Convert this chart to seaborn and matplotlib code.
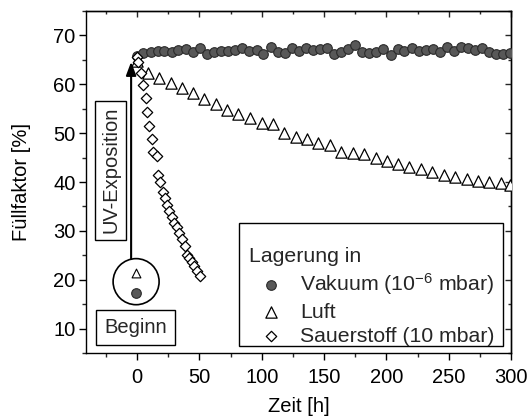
import numpy as np
import pandas as pd
import seaborn as sns
import matplotlib
matplotlib.use("Agg")
import matplotlib.pyplot as plt
from matplotlib.patches import Ellipse, FancyArrowPatch, Rectangle
from matplotlib.ticker import MultipleLocator

# ---------------- data ----------------
vak_t = [0, 5.1, 11.2, 16.6, 21.9, 27.8, 33.2, 39.3, 44.7, 50.5, 55.9, 62.0, 67.4,
         72.7, 78.6, 84.0, 89.8, 96.0, 101.3, 107.2, 112.8, 118.5, 124.1, 129.7,
         135.3, 140.9, 146.8, 152.4, 158.0, 163.6, 169.2, 175.1, 180.7, 186.3,
         192.0, 197.6, 203.5, 209.1, 214.4, 220.3, 225.9, 231.5, 237.2, 243.0,
         248.7, 254.3, 259.9, 265.7, 271.1, 277.0, 282.6, 288.2, 293.8, 299.5]
vak_ff = [65.8, 66.4, 66.6, 66.9, 66.9, 66.7, 67.1, 67.2, 66.7, 67.5, 66.2, 66.6, 66.9,
          66.9, 67.1, 67.5, 66.8, 67.1, 66.2, 67.6, 66.7, 66.4, 67.4, 66.9,
          67.4, 67.1, 67.3, 67.4, 66.2, 66.7, 67.3, 68.1, 66.7, 66.4,
          66.7, 67.2, 66.0, 67.2, 66.9, 67.5, 66.9, 67.1, 67.2, 66.7,
          67.6, 66.9, 67.6, 67.5, 67.1, 67.4, 66.6, 66.3, 66.2, 66.5]

luft_t = [0, 9.1, 17.7, 27.0, 35.8, 45.2, 54.0, 63.1, 72.4, 81.3, 90.6, 100.0, 108.8,
          118.2, 127.5, 136.1, 145.5, 154.8, 163.6, 173.0, 182.3, 191.5, 200.8,
          209.6, 218.4, 227.5, 236.9, 246.3, 255.1, 264.5, 273.3, 282.6, 291.7, 299.2]
luft_ff = [64.8, 62.3, 61.3, 60.2, 59.3, 58.2, 57.0, 55.9, 54.8, 53.9, 53.1, 52.0, 51.9,
           50.1, 49.3, 48.8, 48.0, 47.5, 46.2, 46.0, 45.8, 44.9, 44.3,
           43.7, 43.0, 42.6, 42.1, 41.5, 41.1, 40.6, 40.3, 40.0, 39.8, 39.4]

sauer_t = [0, 1.0, 3.0, 5.0, 7.0, 8.3, 9.9, 11.8, 13.0, 15.8, 16.5, 18.4, 20.6, 22.5,
           23.8, 25.9, 27.8, 29.7, 31.8, 33.9, 35.9, 38.5, 39.9, 42.0, 43.9, 46.0,
           47.9, 50.5]
sauer_ff = [65.6, 64.5, 62.4, 59.8, 57.1, 54.3, 51.4, 48.8, 46.2, 45.3, 41.5, 39.9,
            38.0, 36.7, 35.3, 34.1, 32.9, 31.7, 30.7, 29.5, 28.3, 26.9, 25.1, 24.4,
            23.6, 22.8, 21.8, 20.8]

labels = ["Vakuum (10$^{\\mathsf{-6}}$ mbar)", "Luft", "Sauerstoff (10 mbar)"]
legend_title = "Lagerung in"
x_label = "Zeit [h]"
y_label = "Füllfaktor [%]"
x_ticks = [0, 50, 100, 150, 200, 250, 300]
y_ticks = [10, 20, 30, 40, 50, 60, 70]

# ---------------- style ----------------
sns.set_theme(style="ticks")
plt.rcParams["font.family"] = ["Liberation Sans", "DejaVu Sans"]
plt.rcParams["mathtext.fontset"] = "custom"
plt.rcParams["mathtext.rm"] = "Liberation Sans"
plt.rcParams["mathtext.sf"] = "Liberation Sans"
plt.rcParams["mathtext.it"] = "Liberation Sans:italic"
FS = 14.5
LFS = 15.3

fig = plt.figure(figsize=(5.27, 4.16), dpi=100)
ax = fig.add_axes([86 / 527, (416 - 353) / 416, (511 - 86) / 527, (353 - 11) / 416])

df_v = pd.DataFrame({"t": vak_t, "ff": vak_ff})
df_l = pd.DataFrame({"t": luft_t, "ff": luft_ff})
df_s = pd.DataFrame({"t": sauer_t, "ff": sauer_ff})

sns.scatterplot(data=df_v, x="t", y="ff", marker="o", s=48, color="#585858",
                edgecolor="#2a2a2a", linewidth=0.8, ax=ax, label=labels[0], zorder=3)
sns.scatterplot(data=df_l, x="t", y="ff", marker="^", s=66, color="white",
                edgecolor="black", linewidth=0.9, ax=ax, label=labels[1], zorder=4)
sns.scatterplot(data=df_s, x="t", y="ff", marker="D", s=28, color="white",
                edgecolor="black", linewidth=0.9, ax=ax, label=labels[2], zorder=5)

ax.set_xlim(-41, 300)
ax.set_ylim(5, 75)
ax.set_xticks(x_ticks)
ax.set_yticks(y_ticks)
ax.xaxis.set_minor_locator(MultipleLocator(25))
ax.yaxis.set_minor_locator(MultipleLocator(5))
ax.tick_params(which="major", direction="out", length=5, width=1, labelsize=FS,
               colors="black", top=False, right=False)
ax.tick_params(which="minor", direction="out", length=3, width=1, top=False, right=False)
ax.tick_params(axis="x", which="major", pad=6)
ax.tick_params(axis="y", which="major", pad=2.5)
for sp in ax.spines.values():
    sp.set_visible(True)
    sp.set_linewidth(1.0)
    sp.set_color("black")

secx = ax.secondary_xaxis("top")
secx.set_xticks(x_ticks)
secx.xaxis.set_minor_locator(MultipleLocator(25))
secx.tick_params(which="major", direction="in", length=4, width=1, labeltop=False)
secx.tick_params(which="minor", direction="in", length=2.5, width=1)
secx.spines["top"].set_linewidth(1.0)
secy = ax.secondary_yaxis("right")
secy.set_yticks(y_ticks)
secy.yaxis.set_minor_locator(MultipleLocator(5))
secy.tick_params(which="major", direction="in", length=4, width=1, labelright=False)
secy.tick_params(which="minor", direction="in", length=2.5, width=1)
secy.spines["right"].set_linewidth(1.0)

ax.set_xlabel(x_label, fontsize=FS, color="black", labelpad=7)
ax.set_ylabel(y_label, fontsize=FS, color="black", labelpad=16)

# ---------------- annotations ----------------
ax.text(-21.3, 42.4, "UV-Exposition", rotation=90, ha="center", va="center",
        fontsize=FS, zorder=6,
        bbox=dict(boxstyle="square,pad=0.3", fc="white", ec="black", lw=1.0))
ax.text(-1.0, 10.3, "Beginn", ha="center", va="center", fontsize=FS, zorder=6,
        bbox=dict(boxstyle="square,pad=0.4", fc="white", ec="black", lw=1.0))
ax.add_patch(Ellipse((-0.8, 19.6), 36.9, 9.43, fc="none", ec="black", lw=1.2, zorder=6))
ax.scatter([-0.6], [21.4], marker="^", s=40, facecolor="white", edgecolor="black",
           linewidth=0.8, zorder=6)
ax.scatter([-0.6], [17.3], marker="o", s=48, facecolor="#585858", edgecolor="#2a2a2a",
           linewidth=0.8, zorder=6)
arr = FancyArrowPatch((-4.8, 24.3), (-4.8, 64.6), arrowstyle="-|>,head_length=0.8,head_width=0.3",
                      mutation_scale=10, color="black", lw=1.5, shrinkA=0, shrinkB=0, zorder=6)
ax.add_patch(arr)

# ---------------- legend ----------------
frame = Rectangle((0.36, 0.0205), 0.622, 0.359, transform=ax.transAxes,
                  fc="white", ec="black", lw=1.0, zorder=7)
ax.add_patch(frame)
leg = ax.legend(loc="lower right", bbox_to_anchor=(0.982, -0.004), title=legend_title,
                fontsize=LFS, title_fontsize=LFS, frameon=False, alignment="left",
                handlelength=2.1, handletextpad=0.32, labelspacing=0.25,
                borderpad=0.4, borderaxespad=0)
leg.set_zorder(8)

fig.savefig("out.png", dpi=100)
